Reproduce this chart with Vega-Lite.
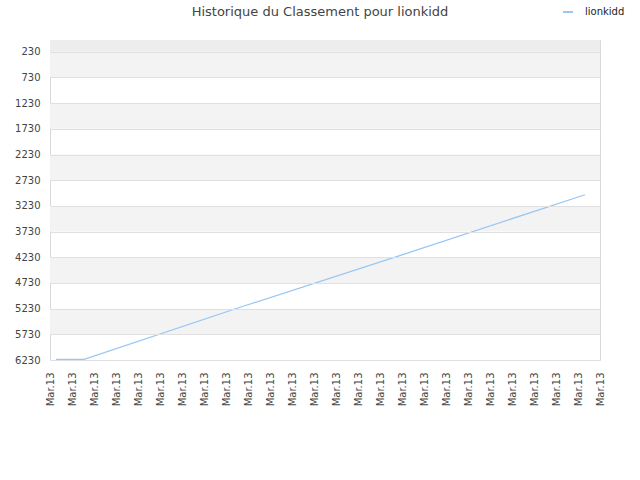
{
  "$schema": "https://vega.github.io/schema/vega-lite/v6.json",
  "width": 550,
  "height": 320,
  "autosize": {"type": "none"},
  "padding": {"left": 50, "top": 40, "right": 40, "bottom": 120},
  "title": {
    "text": "Historique du Classement pour lionkidd",
    "font": "DejaVu Sans",
    "fontSize": 13,
    "fontWeight": "normal",
    "color": "#444444",
    "offset": -13,
    "dx": -5
  },
  "datasets": {
    "bands": [
      {"from": 230, "to": 730},
      {"from": 1230, "to": 1730},
      {"from": 2230, "to": 2730},
      {"from": 3230, "to": 3730},
      {"from": 4230, "to": 4730},
      {"from": 5230, "to": 5730}
    ],
    "topband": [{"from": 0, "to": 230}],
    "rank": [
      {"t": 0.27, "rang": 6216, "joueur": "lionkidd"},
      {"t": 1.55, "rang": 6216, "joueur": "lionkidd"},
      {"t": 8.64, "rang": 5204, "joueur": "lionkidd"},
      {"t": 16.0, "rang": 4182, "joueur": "lionkidd"},
      {"t": 24.32, "rang": 3012, "joueur": "lionkidd"}
    ]
  },
  "layer": [
    {
      "data": {"name": "bands"},
      "mark": {"type": "rect", "color": "#f3f3f3"},
      "encoding": {
        "y": {
          "field": "from",
          "type": "quantitative",
          "scale": {"domain": [0, 6230], "reverse": true, "nice": false, "zero": false},
          "axis": {
            "title": null,
            "values": [230, 730, 1230, 1730, 2230, 2730, 3230, 3730, 4230, 4730, 5230, 5730, 6230],
            "tickCount": 30,
            "format": "d",
            "labelOverlap": false,
            "ticks": false,
            "domain": false,
            "labelPadding": 10,
            "gridColor": "#e0e0e0",
            "zindex": 1,
            "labelFont": "DejaVu Sans",
            "labelFontSize": 10,
            "labelColor": "#444444"
          }
        },
        "y2": {"field": "to"}
      }
    },
    {
      "data": {"name": "topband"},
      "mark": {"type": "rect", "color": "#ededed"},
      "encoding": {
        "y": {"field": "from", "type": "quantitative"},
        "y2": {"field": "to"}
      }
    },
    {
      "data": {"name": "rank"},
      "mark": {"type": "line", "strokeWidth": 1.2},
      "encoding": {
        "x": {
          "field": "t",
          "type": "quantitative",
          "scale": {"domain": [0, 25], "nice": false, "zero": false},
          "axis": {
            "title": null,
            "values": [0, 1, 2, 3, 4, 5, 6, 7, 8, 9, 10, 11, 12, 13, 14, 15, 16, 17, 18, 19, 20, 21, 22, 23, 24, 25],
            "tickCount": 30,
            "labelExpr": "'Mar.13'",
            "labelAngle": -90,
            "labelPadding": 12,
            "labelOverlap": false,
            "ticks": false,
            "grid": false,
            "domain": false,
            "labelFont": "DejaVu Sans",
            "labelFontSize": 10,
            "labelColor": "#444444"
          }
        },
        "y": {"field": "rang", "type": "quantitative"},
        "color": {
          "field": "joueur",
          "type": "nominal",
          "scale": {"range": ["#99c6f3"]},
          "legend": {
            "title": null,
            "orient": "none",
            "legendX": 512,
            "legendY": -34,
            "padding": 0,
            "symbolType": "stroke",
            "symbolSize": 100,
            "symbolStrokeWidth": 2,
            "labelOffset": 11,
            "labelFont": "DejaVu Sans",
            "labelFontSize": 10,
            "labelColor": "#222222"
          }
        }
      }
    }
  ],
  "config": {
    "view": {"stroke": "#d8d8d8"},
    "background": "white"
  }
}
